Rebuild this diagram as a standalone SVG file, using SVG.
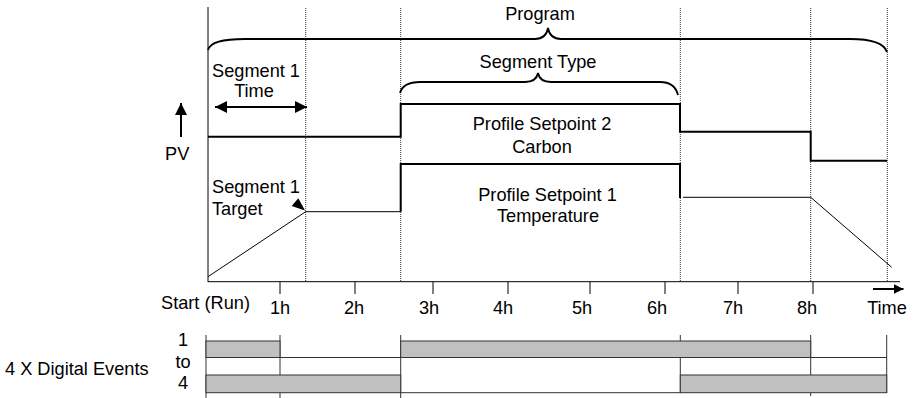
<svg xmlns="http://www.w3.org/2000/svg" width="918" height="398" viewBox="0 0 918 398">
<style>
text{font-family:"Liberation Sans",Arial,sans-serif;font-size:18.2px;fill:#000}
.m{text-anchor:middle}
.dot{stroke:#333;stroke-width:1;stroke-dasharray:1,1;fill:none}
.ax{stroke:#000;stroke-width:1;fill:none}
.thick{stroke:#000;stroke-width:2;fill:none}
.thin{stroke:#000;stroke-width:1;fill:none}
.brace{stroke:#000;stroke-width:1.8;fill:none}
.bar{fill:#c0c0c0;stroke:#333;stroke-width:1}
.ev{stroke:#333;stroke-width:1;fill:none}
.arr{stroke:#000;stroke-width:2;fill:none}
</style>
<defs>
<marker id="ah" viewBox="0 0 12 12" refX="12" refY="6" markerWidth="13" markerHeight="12" markerUnits="userSpaceOnUse" orient="auto-start-reverse">
<path d="M0,0 L12,6 L0,12 Z" fill="#000"/>
</marker>
<marker id="ahs" viewBox="0 0 10 10" refX="10" refY="5" markerWidth="10" markerHeight="10" markerUnits="userSpaceOnUse" orient="auto">
<path d="M0,0 L10,5 L0,10 Z" fill="#000"/>
</marker>
</defs>

<g id="grid">
<line class="dot" x1="305.7" y1="8" x2="305.7" y2="281"/>
<line class="dot" x1="400.7" y1="8" x2="400.7" y2="281"/>
<line class="dot" x1="680.3" y1="8" x2="680.3" y2="281"/>
<line class="dot" x1="810.7" y1="8" x2="810.7" y2="281"/>
<line class="dot" x1="887.3" y1="8" x2="887.3" y2="281"/>
</g>

<g id="axes">
<line class="ax" x1="208" y1="7" x2="208" y2="282"/>
<line class="ax" x1="208" y1="281.7" x2="900" y2="281.7"/>
<path class="ax" d="M280,282V294M355,282V294M433,282V294M508,282V294M590,282V294M665,282V294M738,282V294M813,282V294"/>
</g>

<g id="program">
<path class="brace" d="M208,50 C210,42 222,39 245,39 L535,39 C543,39 547,34 548,28 C549,34 553,39 561,39 L850,39 C872,39 884,43 887,52"/>
<text class="m" x="540" y="20">Program</text>
</g>

<g id="segment-type">
<path class="brace" d="M400,93 C402,86 408,82 420,82 L525,82 C533,82 537,78 538,73 C539,78 543,82 551,82 L660,82 C670,82 676,87 678,95"/>
<text class="m" x="538" y="68">Segment Type</text>
</g>

<g id="segment1-time">
<text class="m" x="256" y="77">Segment 1</text>
<text class="m" x="254" y="97">Time</text>
</g>

<g id="pv">
<text x="165" y="160">PV</text>
</g>

<g id="segment1-target">
<text x="212" y="193">Segment 1</text>
<text x="212" y="215">Target</text>
<polygon points="298.3,198.3 291.7,206 305,210.5" fill="#000"/>
</g>

<g id="sp2">
<polyline class="thick" points="208,136.7 400.7,136.7 400.7,104 680,104 680,131.7 810.7,131.7 810.7,160.7 887,160.7"/>
<text class="m" x="542" y="130">Profile Setpoint 2</text>
<text class="m" x="542" y="152.5">Carbon</text>
</g>

<g id="sp1">
<polyline class="thin" points="208,276.7 305.7,211.7 400.7,211.7"/>
<polyline class="thick" points="400.7,211.7 400.7,164 680,164 680,198"/>
<polyline class="thin" points="683,197.3 810.7,197.3 891.7,267.3"/>
<text class="m" x="547.5" y="201">Profile Setpoint 1</text>
<text class="m" x="548" y="222.3">Temperature</text>
</g>

<g id="time-labels">
<text x="161" y="309">Start (Run)</text>
<text class="m" x="280" y="314">1h</text>
<text class="m" x="354" y="314">2h</text>
<text class="m" x="429" y="314">3h</text>
<text class="m" x="503" y="314">4h</text>
<text class="m" x="582" y="314">5h</text>
<text class="m" x="657" y="314">6h</text>
<text class="m" x="733" y="314">7h</text>
<text class="m" x="807" y="314">8h</text>
<text class="m" x="887" y="314">Time</text>
</g>

<g id="digital-events">
<text x="5" y="375">4 X Digital Events</text>
<text class="m" x="183" y="346">1</text>
<text class="m" x="183" y="368">to</text>
<text class="m" x="183" y="389">4</text>
<path class="ev" d="M206,335V398M280,335V398M400.7,335V398M680.3,335V393M810.7,335V396M886.7,335V393"/>
<rect class="bar" x="206" y="341" width="74" height="16.5"/>
<rect class="bar" x="400.7" y="341" width="410" height="16.5"/>
<rect class="bar" x="206" y="375" width="194.7" height="17.7"/>
<rect class="bar" x="680.3" y="375" width="206.4" height="17.7"/>
<line class="ev" x1="206" y1="357.5" x2="887" y2="357.5"/>
<line class="ev" x1="400.7" y1="392.7" x2="680.3" y2="392.7"/>
</g>

<g id="connectors">
<line class="arr" x1="181" y1="137" x2="181" y2="103" marker-end="url(#ah)"/>
<line class="arr" x1="215" y1="107" x2="307" y2="107" marker-start="url(#ah)" marker-end="url(#ah)"/>
<line class="arr" x1="873" y1="289" x2="903.5" y2="289" marker-end="url(#ahs)"/>
</g>
</svg>
